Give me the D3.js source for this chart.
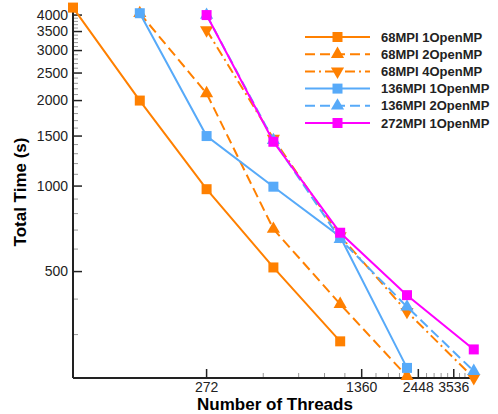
<!DOCTYPE html>
<html>
<head>
<meta charset="utf-8">
<script src="https://cdn.jsdelivr.net/npm/d3@7"></script>
<style>
  body { margin: 0; background: #fff; }
  text { font-family: "Liberation Sans", Arial, sans-serif; }
</style>
</head>
<body>
<svg id="chart" width="498" height="414"></svg>
<script>
// Data
var seriesNames = ['68MPI 1OpenMP', '68MPI 2OpenMP', '68MPI 4OpenMP',
                   '136MPI 1OpenMP', '136MPI 2OpenMP', '272MPI 1OpenMP'];
var threads68x1 = [68, 136, 272, 544, 1088];
var time68x1 = [4250, 2000, 975, 517, 284];
var threads68x2 = [136, 272, 544, 1088, 2176];
var time68x2 = [4060, 2120, 706, 384, 214];
var threads68x4 = [272, 544, 1088, 2176, 4352];
var time68x4 = [3540, 1470, 667, 361, 211];
var threads136x1 = [136, 272, 544, 1088, 2176];
var time136x1 = [4060, 1500, 995, 663, 229];
var threads136x2 = [272, 544, 1088, 2176, 4352];
var time136x2 = [4000, 1450, 650, 376, 223];
var threads272x1 = [272, 544, 1088, 2176, 4352];
var time272x1 = [4000, 1432, 685, 413, 266];
var xTickValues = [272, 1360, 2448, 3536];
var yTickValues = [500, 1000, 1500, 2000, 2500, 3000, 3500, 4000];

var orange = '#ff8000',
    blue = '#57aaf9',
    magenta = '#ff00ff';

// style for each series: colour, dash, marker
var styles = [
    {color: orange, dash: null, symbol: 'square'},
    {color: orange, dash: '10,5', symbol: 'up'},
    {color: orange, dash: '10,4,2,4', symbol: 'down'},
    {color: blue, dash: null, symbol: 'square'},
    {color: blue, dash: '10,5', symbol: 'up'},
    {color: magenta, dash: null, symbol: 'square'}
];

var allThreads = [threads68x1, threads68x2, threads68x4, threads136x1, threads136x2, threads272x1];
var allTimes = [time68x1, time68x2, time68x4, time136x1, time136x2, time272x1];

var series = seriesNames.map(function(name, i) {
    return {
        name: name,
        style: styles[i],
        values: allThreads[i].map(function(t, j) { return {x: t, y: allTimes[i][j]}; })
    };
});

var svg = d3.select('#chart');

// plot box (no frame, only left and bottom axes)
var plotLeft = 73, plotRight = 477, plotTop = 5, plotBottom = 378;

var x = d3.scaleLog().domain([68, 4500]).range([plotLeft, plotRight]);
var y = d3.scaleLog().domain([211, 4340]).range([plotBottom, plotTop]);

// Minor ticks: x every 217.6 from 272, y every 100
var xMinor = [];
for (var v = 272; v < 4500; v += 217.6) {
    if (xTickValues.every(function(t) { return Math.abs(t - v) > 1; })) xMinor.push(v);
}
var yMinor = [];
for (var w = 300; w < 4340; w += 100) {
    if (yTickValues.indexOf(w) < 0) yMinor.push(w);
}

var axes = svg.append('g').attr('class', 'axes');

// x ticks (pointing inward)
axes.selectAll('line.xminor').data(xMinor).enter().append('line')
    .attr('x1', function(d) { return x(d); }).attr('x2', function(d) { return x(d); })
    .attr('y1', plotBottom).attr('y2', plotBottom - 5)
    .attr('stroke', '#999').attr('stroke-width', 1);
axes.selectAll('line.xmajor').data(xTickValues).enter().append('line')
    .attr('x1', function(d) { return x(d); }).attr('x2', function(d) { return x(d); })
    .attr('y1', plotBottom).attr('y2', plotBottom - 9)
    .attr('stroke', '#222').attr('stroke-width', 1.5);
axes.selectAll('text.xlab').data(xTickValues).enter().append('text')
    .attr('x', function(d) { return x(d); })
    .attr('y', 392)
    .attr('text-anchor', 'middle')
    .attr('font-size', 14)
    .attr('fill', '#222')
    .text(function(d) { return d; });

// y ticks
axes.selectAll('line.yminor').data(yMinor).enter().append('line')
    .attr('x1', plotLeft).attr('x2', plotLeft + 5)
    .attr('y1', function(d) { return y(d); }).attr('y2', function(d) { return y(d); })
    .attr('stroke', '#999').attr('stroke-width', 1);
axes.selectAll('line.ymajor').data(yTickValues).enter().append('line')
    .attr('x1', plotLeft).attr('x2', plotLeft + 9)
    .attr('y1', function(d) { return y(d); }).attr('y2', function(d) { return y(d); })
    .attr('stroke', '#222').attr('stroke-width', 1.5);
axes.selectAll('text.ylab').data(yTickValues).enter().append('text')
    .attr('x', 68)
    .attr('y', function(d) { return y(d); })
    .attr('dy', '0.35em')
    .attr('text-anchor', 'end')
    .attr('font-size', 14)
    .attr('fill', '#222')
    .text(function(d) { return d; });

// axis lines
axes.append('line').attr('x1', plotLeft).attr('x2', plotLeft).attr('y1', plotTop).attr('y2', plotBottom)
    .attr('stroke', '#222').attr('stroke-width', 2);
axes.append('line').attr('x1', plotLeft).attr('x2', plotRight).attr('y1', plotBottom).attr('y2', plotBottom)
    .attr('stroke', '#222').attr('stroke-width', 2);

// axis titles
svg.append('text')
    .attr('x', 275).attr('y', 410)
    .attr('text-anchor', 'middle')
    .attr('font-size', 17).attr('font-weight', 'bold')
    .text('Number of Threads');
svg.append('text')
    .attr('transform', 'translate(26,192) rotate(-90)')
    .attr('text-anchor', 'middle')
    .attr('font-size', 17).attr('font-weight', 'bold')
    .text('Total Time (s)');

// symbol path generator
function symbolPath(kind) {
    if (kind === 'square') return d3.symbol().type(d3.symbolSquare).size(100)();
    return d3.symbol().type(d3.symbolTriangle).size(75)();
}
function symbolTransform(kind, px, py) {
    return 'translate(' + px + ',' + py + ')' + (kind === 'down' ? ' rotate(180)' : '');
}

var line = d3.line()
    .x(function(d) { return x(d.x); })
    .y(function(d) { return y(d.y); });

// series lines and markers
var g = svg.selectAll('g.series').data(series).enter().append('g').attr('class', 'series');

g.append('path')
    .attr('d', function(d) { return line(d.values); })
    .attr('fill', 'none')
    .attr('stroke', function(d) { return d.style.color; })
    .attr('stroke-width', 2)
    .attr('stroke-dasharray', function(d) { return d.style.dash; });

g.each(function(s) {
    d3.select(this).selectAll('path.marker').data(s.values).enter().append('path')
        .attr('class', 'marker')
        .attr('d', symbolPath(s.style.symbol))
        .attr('transform', function(d) { return symbolTransform(s.style.symbol, x(d.x), y(d.y)); })
        .attr('fill', s.style.color);
});

// Legend
var legend = svg.append('g').attr('class', 'legend');
var rows = legend.selectAll('g').data(series).enter().append('g')
    .attr('transform', function(d, i) { return 'translate(0,' + (37 + i * 17.2) + ')'; });

rows.append('line')
    .attr('x1', 305).attr('x2', 370)
    .attr('stroke', function(d) { return d.style.color; })
    .attr('stroke-width', 2)
    .attr('stroke-dasharray', function(d) { return d.style.dash; });
rows.append('path')
    .attr('d', function(d) { return symbolPath(d.style.symbol); })
    .attr('transform', function(d) { return symbolTransform(d.style.symbol, 337.5, 0); })
    .attr('fill', function(d) { return d.style.color; });
rows.append('text')
    .attr('x', 381).attr('dy', '0.36em')
    .attr('font-size', 13).attr('font-weight', 'bold')
    .attr('fill', '#222')
    .text(function(d) { return d.name; });
</script>
</body>
</html>
